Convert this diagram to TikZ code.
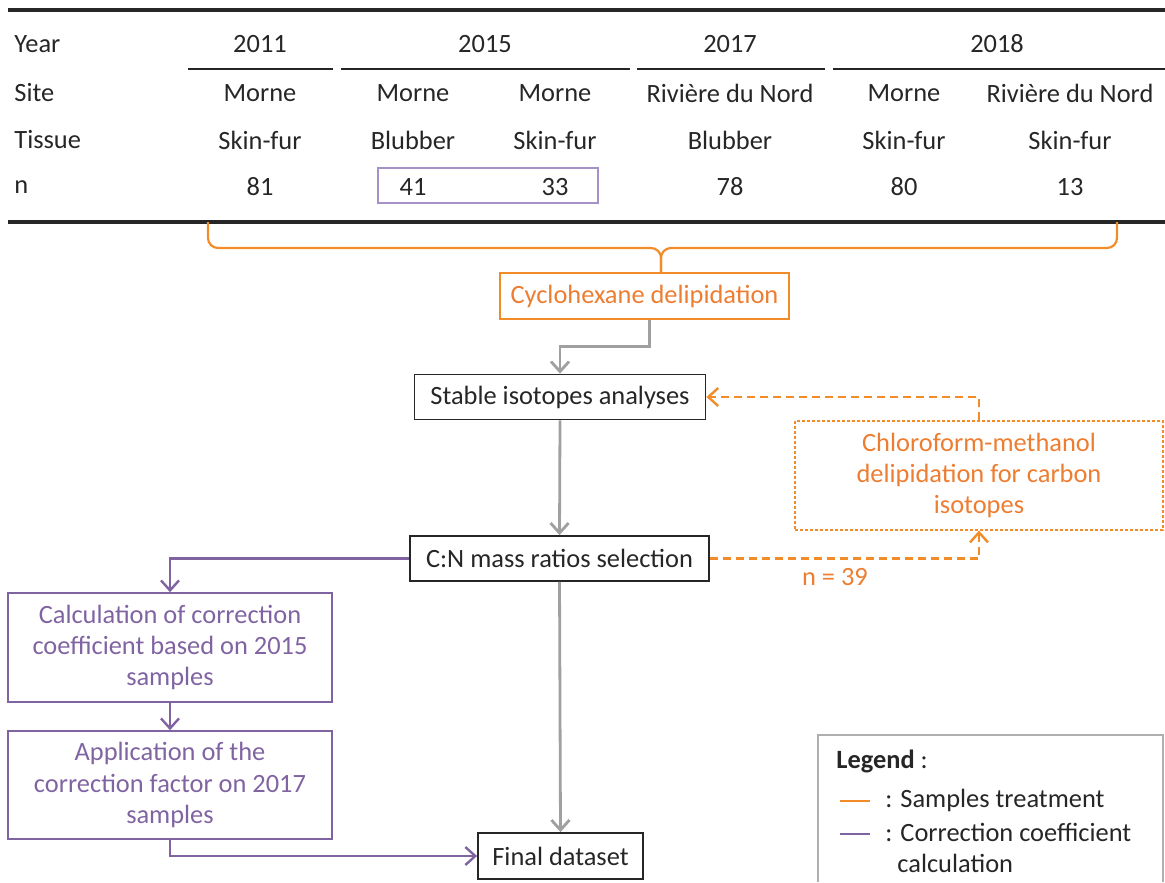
\documentclass[tikz,border=0pt]{standalone}
\usepackage{fontspec}
\setmainfont{Carlito}
\usepackage{xcolor}
\usepackage{tikz}
\usetikzlibrary{arrows.meta, positioning, calc}
\definecolor{txtdark}{RGB}{38,38,38}
\definecolor{treatorange}{RGB}{242,140,40}
\definecolor{treattext}{RGB}{237,125,49}
\definecolor{corrpurple}{RGB}{128,100,162}
\definecolor{corrlight}{RGB}{165,145,200}
\definecolor{flowgray}{RGB}{160,160,160}
\definecolor{legendgray}{RGB}{175,175,175}
\newcommand{\flowfont}{\fontsize{13.2}{15.7}\selectfont}
\tikzstyle{cell}     = [inner sep=0pt, text=txtdark, font=\flowfont]
\tikzstyle{stepbox}  = [rectangle, draw=txtdark, line width=0.9pt, text=txtdark,
                        font=\flowfont, inner sep=0pt, align=center]
\tikzstyle{treatbox} = [stepbox, draw=treatorange, text=treattext, line width=0.8pt]
\tikzstyle{lipidbox} = [treatbox, line width=0.6pt, dash pattern=on 1.5pt off 1pt]
\tikzstyle{corrbox}  = [stepbox, draw=corrpurple, text=corrpurple, line width=0.8pt]
\tikzstyle{grayarr}  = [-{Straight Barb[length=5pt,width=9pt]}, flowgray, line width=1.4pt]
\tikzstyle{dasharr}  = [-{Straight Barb[length=5pt,width=9pt]}, treatorange,
                        line width=1.2pt, dash pattern=on 4pt off 2.5pt]
\tikzstyle{corrarr}  = [-{Straight Barb[length=5pt,width=9pt]}, corrpurple, line width=1.2pt]
\tikzstyle{bracket}  = [treatorange, line width=1.1pt, rounded corners=5pt]
\tikzstyle{rule}     = [txtdark, line width=1.6pt]

\begin{document}
\begin{tikzpicture}[x=0.5pt, y=-0.5pt]
  \useasboundingbox (0,0) rectangle (1165,882);

  % sample table
  \draw[rule] (8,10) -- (1165,10);
  \draw[rule] (8,222) -- (1165,222);
  \foreach \a/\b in {188/333, 341/630, 637/825, 833/1165}
    \draw[txtdark, line width=0.8pt] (\a,69) -- (\b,69);

  \node[cell, anchor=west] (lyear) at (14,44) {Year};
  \node[cell, anchor=west] (lsite) at (14,93) {Site};
  \node[cell, anchor=west] (ltissue) at (14,140) {Tissue};
  \node[cell, anchor=west] (ln) at (14,187) {n};

  \node[cell] (y2011) at (260,44) {2011};
  \node[cell] (y2015) at (485,44) {2015};
  \node[cell] (y2017) at (730,44) {2017};
  \node[cell] (y2018) at (997,44) {2018};

  \foreach \x/\s/\t/\n [count=\i] in {260/Morne/Skin-fur/81, 413/Morne/Blubber/41,
      555/Morne/Skin-fur/33, 730/Rivière du Nord/Blubber/78,
      904/Morne/Skin-fur/80, 1070/Rivière du Nord/Skin-fur/13} {
    \node[cell] (site\i) at (\x,93) {\s};
    \node[cell] (tissue\i) at (\x,140) {\t};
    \node[cell] (n\i) at (\x,187) {\n};
  }
  \draw[corrlight, line width=0.7pt] (378,168) rectangle (598,203);

  % treatment flow
  \node[treatbox, minimum width=144.5pt, minimum height=23pt] (cyclo) at (644.5,296) {Cyclohexane delipidation};
  \node[stepbox, minimum width=145.5pt, minimum height=22.5pt] (stable) at (560,397) {Stable isotopes analyses};
  \node[stepbox, minimum width=149.5pt, minimum height=22.5pt] (cn) at (559.5,558.5) {C:N mass ratios selection};
  \node[stepbox, minimum width=82.5pt, minimum height=23pt] (final) at (560.5,856) {Final dataset};
  \node[lipidbox, minimum width=184pt, minimum height=54.5pt] (chloro) at (979,475.5) {Chloroform-methanol\\delipidation for carbon\\isotopes};
  \node[cell, text=treattext] (nlipid) at (835,577) {n = 39};

  \coordinate (bracetip) at (661,248);
  \draw[bracket] (208,222) -- (208,248) -- (bracetip) -- (bracetip |- cyclo.north);
  \draw[bracket] (1117,222) -- (1117,248) -- (bracetip) -- (bracetip |- cyclo.north);

  \draw[grayarr] ([xshift=2.5pt]cyclo.south) -- ++(0,27) -| (stable.north);
  \draw[grayarr] (stable.south) -- (cn.north);
  \draw[grayarr] (cn.south) -- (final.north);

  \draw[dasharr] (chloro.north) |- (stable.east);
  \draw[dasharr] (cn.east) -| (chloro.south);

  % correction
  \node[corrbox, minimum width=162pt, minimum height=54.5pt] (calc) at (170,647.5) {Calculation of correction\\coefficient based on 2015\\samples};
  \node[corrbox, minimum width=162pt, minimum height=54pt] (appl) at (170,785) {Application of the\\correction factor on 2017\\samples};

  \draw[corrarr] (cn.west) -| (calc.north);
  \draw[corrarr] (calc) -- (appl);
  \draw[corrarr] (appl.south) |- (final.west);

  % legend
  \draw[legendgray, line width=0.8pt] (818,882) -- (818,735) -- (1163,735) -- (1163,882);
  \node[cell, anchor=west] (legtitle) at (836,761) {\textbf{Legend} :};
  \draw[treatorange, line width=1.2pt] (840,801) -- (870,801);
  \node[cell, anchor=west] (legtreat) at (885,800) {: Samples treatment};
  \draw[corrpurple, line width=1.2pt] (840,834) -- (870,834);
  \node[cell, anchor=west] (legcorr) at (885,832) {: Correction coefficient};
  \node[cell, anchor=west] (legcorrb) at (897,863) {calculation};
\end{tikzpicture}
\end{document}
